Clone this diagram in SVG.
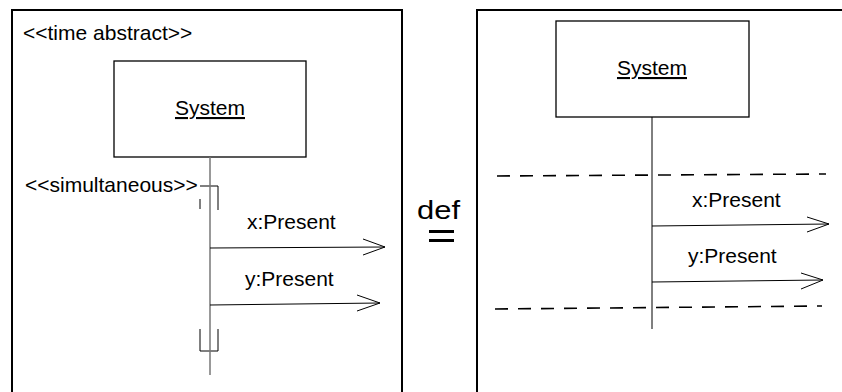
<svg xmlns="http://www.w3.org/2000/svg" width="842" height="392" viewBox="0 0 842 392">
  <style>
    .frame { fill: none; stroke: #000; stroke-width: 2; }
    .box { fill: #fff; stroke: #000; stroke-width: 1.3; }
    .life { fill: none; stroke: #777; stroke-width: 1.5; }
    .life2 { fill: none; stroke: #000; stroke-width: 1; }
    .msg { fill: none; stroke: #000; stroke-width: 1; }
    .dash { fill: none; stroke: #000; stroke-width: 1.6; stroke-dasharray: 13 10; }
    .bracket { fill: none; stroke: #000; stroke-width: 1; }
    text { font-family: "Liberation Sans", Arial, sans-serif; font-size: 21px; fill: #000; }
    .title { text-decoration: underline; }
    .def { font-size: 25px; }
  </style>

  <!-- left frame: time abstract -->
  <g id="frame-left">
    <path class="frame" d="M12,393 V10 H402 V393"/>
    <text x="23" y="40">&lt;&lt;time abstract&gt;&gt;</text>
  </g>

  <g id="system-left">
    <rect class="box" x="114" y="61" width="192" height="96"/>
    <text class="title" x="210" y="115" text-anchor="middle">System</text>
  </g>

  <g id="simultaneous">
    <text x="25" y="192">&lt;&lt;simultaneous&gt;&gt;</text>
    <path class="bracket" d="M200,186 H218 V210"/>
    <path class="bracket" d="M200,199 V209"/>
    <path class="bracket" d="M200,329 V351 H218 V329"/>
  </g>

  <!-- definition sign -->
  <g id="def">
    <text class="def" x="417" y="219" textLength="43" lengthAdjust="spacingAndGlyphs">def</text>
    <rect x="429" y="230" width="25" height="3" fill="#000"/>
    <rect x="429" y="239" width="25" height="3" fill="#000"/>
  </g>

  <!-- right frame: expanded form -->
  <g id="frame-right">
    <path class="frame" d="M477,393 V10 H842"/>
  </g>

  <g id="system-right">
    <rect class="box" x="556" y="21" width="193" height="96"/>
    <text class="title" x="652" y="75" text-anchor="middle">System</text>
  </g>

  <g id="connectors">
    <!-- left lifeline and messages -->
    <line class="life" x1="210" y1="157" x2="210" y2="375"/>
    <text x="247" y="229">x:Present</text>
    <path class="msg" d="M210,248 L385,247 M363,239 L385,247 L363,255"/>
    <text x="245" y="286">y:Present</text>
    <path class="msg" d="M210,305 L380,303 M357,295 L380,303 L357,311"/>

    <!-- right lifeline, bounds and messages -->
    <line class="life2" x1="652" y1="117" x2="652" y2="329"/>
    <line class="dash" x1="497" y1="176" x2="826" y2="174"/>
    <line class="dash" x1="495" y1="309" x2="822" y2="306"/>
    <text x="692" y="207">x:Present</text>
    <path class="msg" d="M652,226 L829,224 M807,217 L829,224 L807,232"/>
    <text x="688" y="263">y:Present</text>
    <path class="msg" d="M652,282 L823,280 M801,273 L823,280 L801,289"/>
  </g>
</svg>
